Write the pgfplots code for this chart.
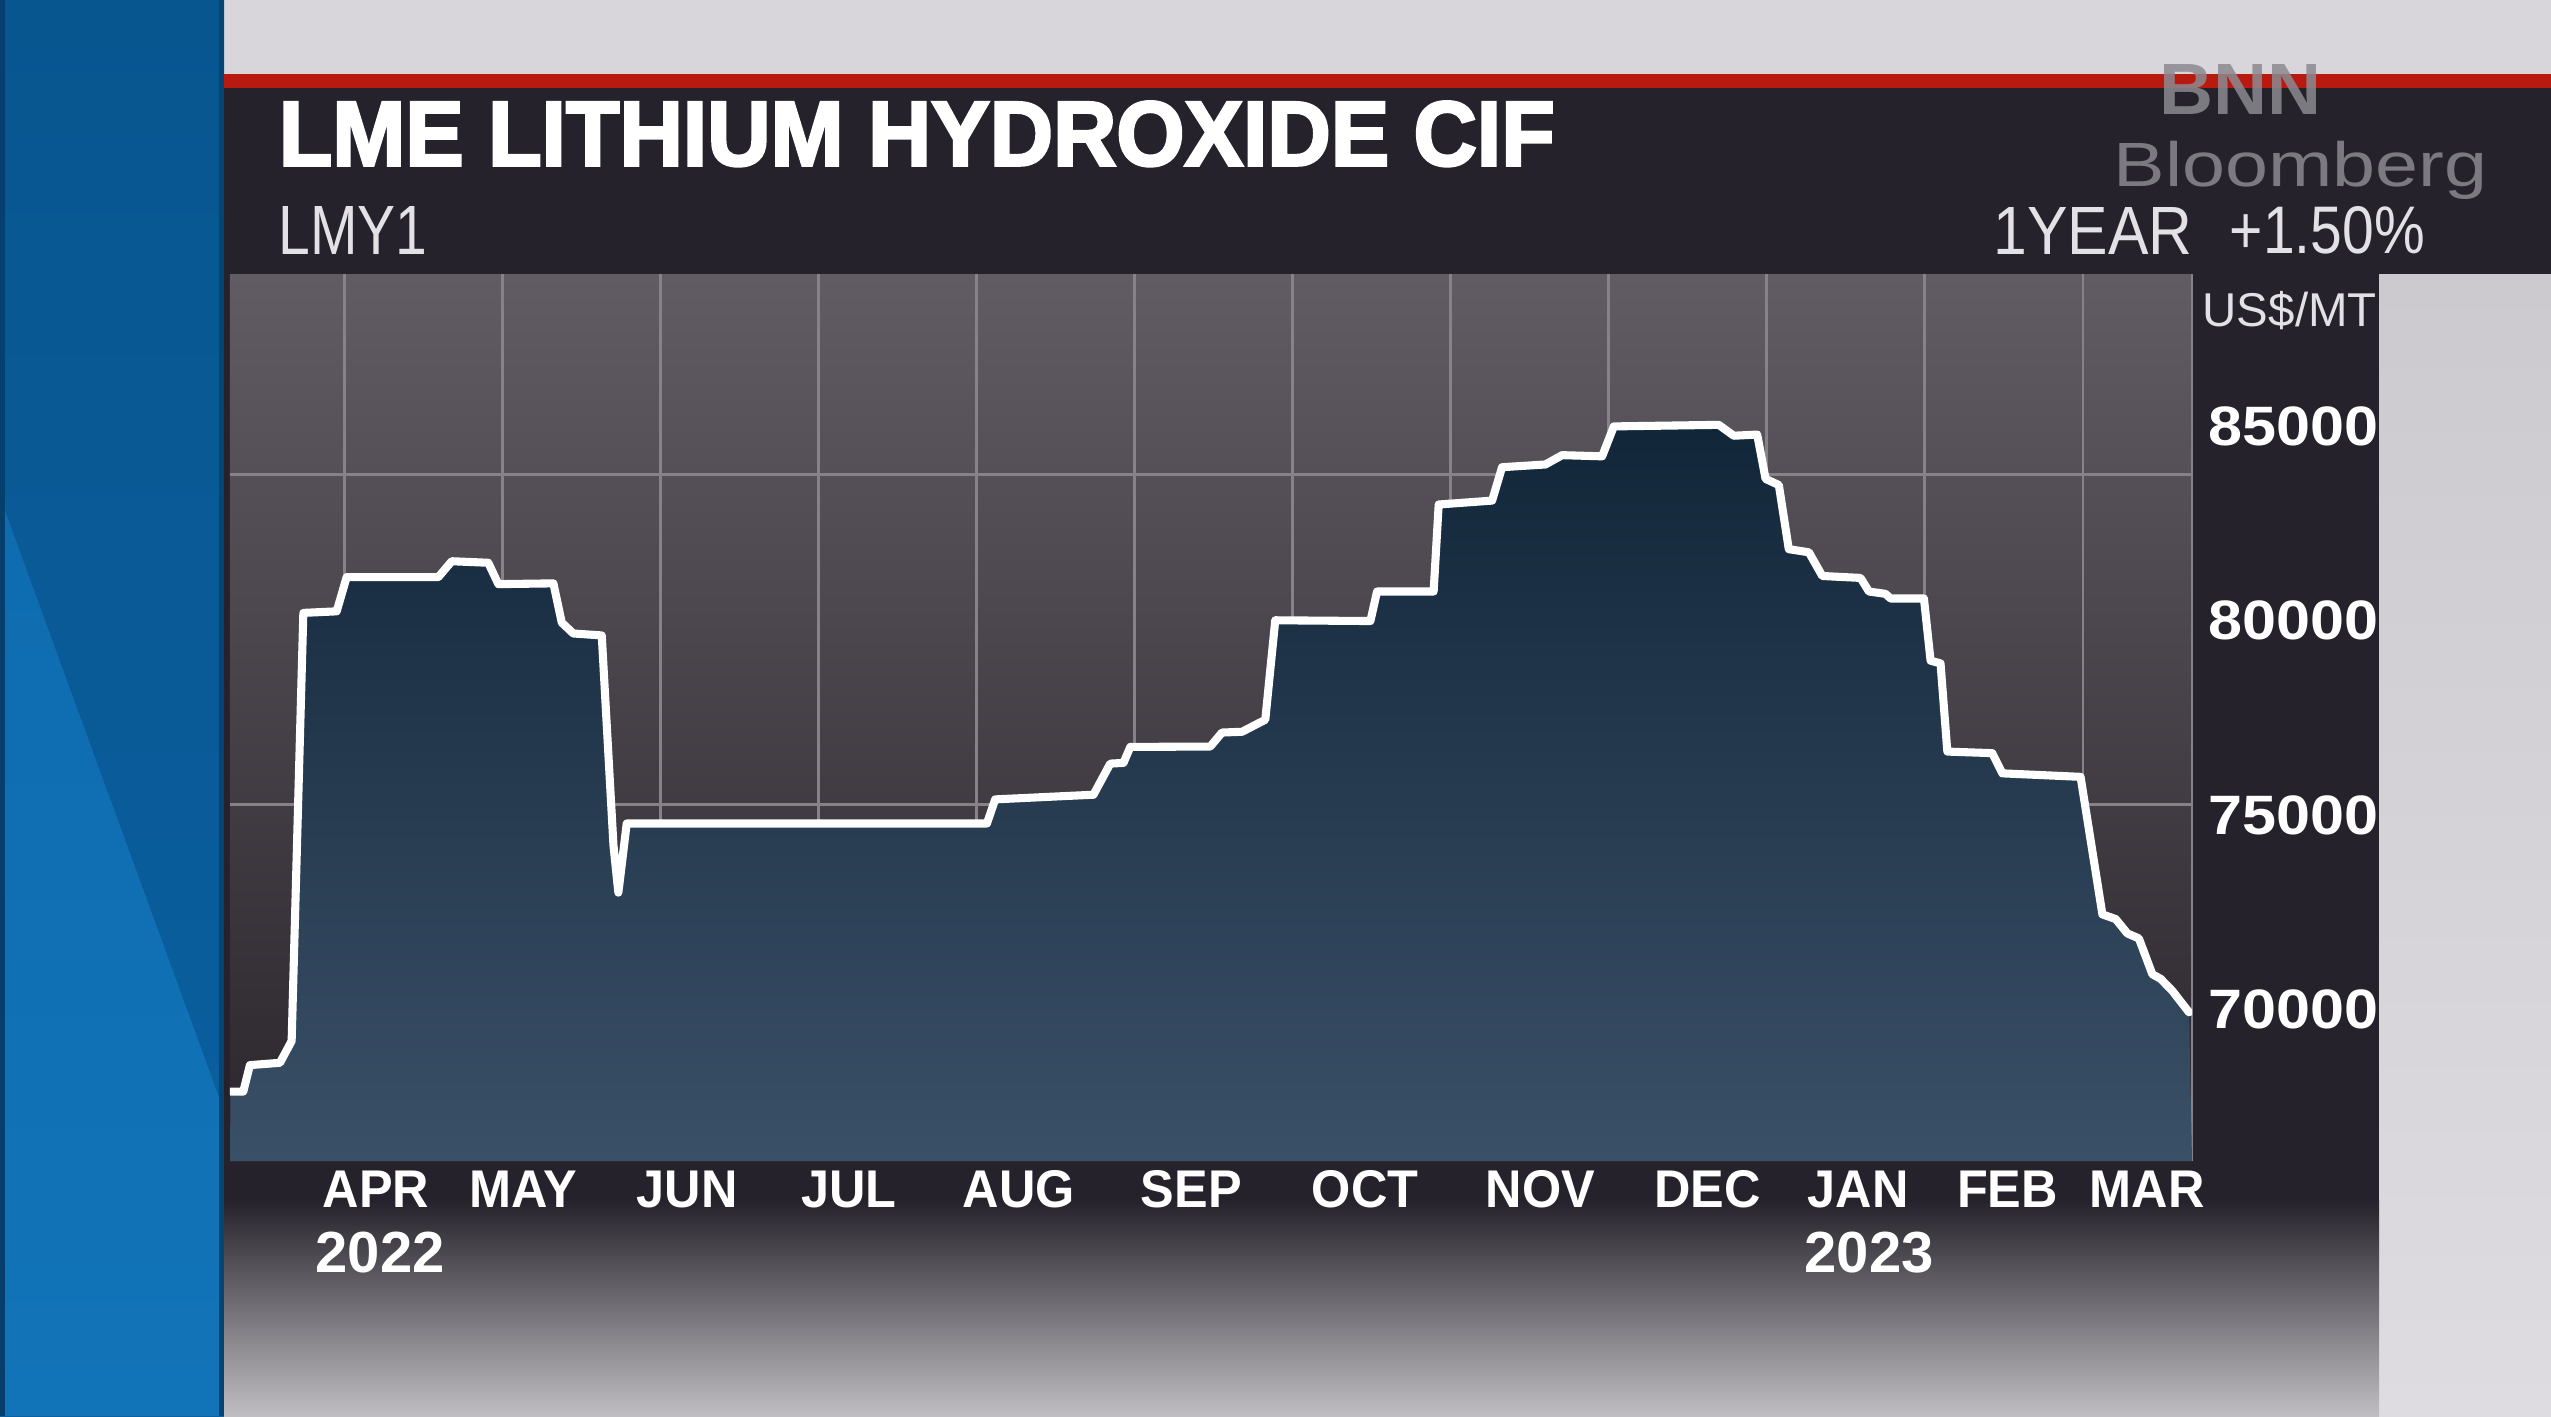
\documentclass[border=0pt]{standalone}
\usepackage{fontspec}
\usepackage{graphicx}
\usepackage{pgfplots}
\pgfplotsset{compat=1.18}
\usepackage{pgfplotstable}
\setmainfont{Liberation Sans}
\newfontfamily\monthfont{Liberation Sans}[FakeStretch=0.95]
\newfontfamily\yfont{Liberation Sans}[FakeStretch=1.1]
\newfontfamily\titlefont{Liberation Sans}[BoldFeatures={FakeBold=3}]
\newfontfamily\condfont{Liberation Sans}

\definecolor{headerbg}{RGB}{37,34,43}
\definecolor{redbar}{RGB}{184,26,16}
\definecolor{topgray}{RGB}{216,214,218}
\definecolor{rightgrayA}{RGB}{204,202,206}
\definecolor{rightgrayB}{RGB}{222,220,224}
\definecolor{blueUp}{RGB}{8,86,144}
\definecolor{blueUpB}{RGB}{10,96,160}
\definecolor{blueLowA}{RGB}{14,108,175}
\definecolor{blueLowB}{RGB}{18,116,184}
\definecolor{blueEdge}{RGB}{6,62,110}
\definecolor{plottop}{RGB}{97,92,99}
\definecolor{plotbot}{RGB}{42,38,44}
\definecolor{areatop}{RGB}{18,38,58}
\definecolor{areabot}{RGB}{58,80,102}
\definecolor{gridc}{RGB}{135,130,138}
\definecolor{bottomlight}{RGB}{192,190,194}
\definecolor{logogray}{RGB}{140,138,145}
\definecolor{subtext}{RGB}{225,225,230}

\pgfplotstableread{
m v
-0.720 67880
-0.639 67880
-0.597 68560
-0.407 68620
-0.333 69180
-0.259 80200
-0.048 80240
0.015 81120
0.595 81120
0.680 81530
0.911 81490
0.975 80940
1.323 80960
1.376 79950
1.449 79670
1.629 79620
1.703 74220
1.734 73000
1.787 74780
4.066 74780
4.118 75400
4.740 75520
4.846 76320
4.930 76340
4.973 76750
5.479 76760
5.553 77120
5.680 77140
5.827 77450
5.890 80010
6.492 79990
6.534 80750
6.892 80750
6.924 82990
7.262 83090
7.325 83950
7.599 84020
7.705 84260
7.958 84230
8.032 85000
8.696 85040
8.791 84760
8.939 84790
8.992 83650
9.076 83490
9.139 81840
9.266 81760
9.351 81150
9.593 81100
9.646 80750
9.751 80690
9.783 80570
9.994 80570
10.036 78970
10.099 78900
10.142 76630
10.426 76590
10.490 76070
10.985 75980
11.123 72440
11.207 72320
11.281 71950
11.354 71820
11.439 70900
11.492 70780
11.566 70470
11.671 69920
}\lithium

\begin{document}
\begin{tikzpicture}
\useasboundingbox (0,0) rectangle (25.51,14.16);
\clip (0,0) rectangle (25.51,14.16);
% backgrounds
\fill[topgray] (2.24,13.42) rectangle (25.51,14.16);
\shade[top color=blueUp, bottom color=blueUpB] (0,0) rectangle (2.24,14.16);
\shade[top color=blueLowA, bottom color=blueLowB] (0,9.19) -- (2.24,3.05) -- (2.24,0) -- (0,0) -- cycle;
\fill[blueEdge] (0,0) rectangle (0.05,14.16);
\fill[blueUp!80!black] (2.19,0) rectangle (2.24,14.16);
\fill[redbar] (2.24,13.28) rectangle (25.51,13.42);
\fill[headerbg] (2.24,11.415) rectangle (25.51,13.28);
\shade[top color=rightgrayA, bottom color=rightgrayB] (23.79,0) rectangle (25.51,11.415);
\fill[headerbg] (2.24,2.16) rectangle (23.79,11.415);
\shade[top color=headerbg, bottom color=bottomlight] (2.24,0) rectangle (23.79,2.16);

% header texts
\node[anchor=south west, inner sep=0pt, text=white] at (2.78,12.49)
  {\resizebox{12.76cm}{0.64cm}{\titlefont\bfseries LME LITHIUM HYDROXIDE CIF}};
\node[anchor=south west, inner sep=0pt, text=subtext] at (2.78,11.61)
  {\resizebox{1.49cm}{0.48cm}{\condfont LMY1}};
\node[anchor=south west, inner sep=0pt, text=subtext] at (19.93,11.61)
  {\resizebox{1.99cm}{0.47cm}{\condfont 1YEAR}};
\node[anchor=south west, inner sep=0pt, text=subtext] at (22.29,11.61)
  {\resizebox{1.95cm}{0.47cm}{\condfont +1.50\%}};
\node[anchor=south west, inner sep=0pt, text=logogray, opacity=0.85] at (21.59,13.01)
  {\resizebox{1.62cm}{0.50cm}{\condfont\bfseries BNN}};
\node[anchor=south west, inner sep=0pt, text=logogray, opacity=0.85] at (21.13,12.16)
  {\resizebox*{3.735cm}{0.583cm}{\condfont Bloomberg}};
\node[anchor=base west, inner sep=0pt, text=subtext, font=\fontsize{13.5pt}{16pt}\selectfont] at (22.02,10.90) {US\$/MT};

\begin{axis}[
  at={(2.30cm,2.55cm)}, anchor=south west,
  width=19.62cm, height=8.865cm, scale only axis,
  xmin=-0.723, xmax=11.69, ymin=66092, ymax=88910,
  axis x line*=bottom, axis y line*=right,
  x axis line style={draw=none},
  y axis line style={draw=gridc, line width=0.8pt},
  scaled x ticks=false, scaled y ticks=false,
  xtick={0.2006,1.131,2.169,3.194,4.268,5.359,6.458,7.568,8.625,9.578,10.523,11.406},
  xticklabels={APR,MAY,JUN,JUL,AUG,SEP,OCT,NOV,DEC,JAN,FEB,MAR},
  ytick={70000,75000,80000,85000},
  yticklabels={70000,75000,80000,85000},
  major tick length=0pt,
  /pgf/number format/assume math mode=true,
  xticklabel style={font=\fontsize{15.1pt}{18pt}\monthfont\bfseries, text=white, anchor=base, inner sep=0pt, yshift=-0.464cm},
  yticklabel style={font=\fontsize{15.8pt}{18pt}\yfont\bfseries, text=white, anchor=west, inner sep=0pt, xshift=0.16cm},
  extra x ticks={0,1,2,3,4,5,6,7,8,9,10,11},
  extra x tick labels={},
  extra x tick style={grid=major},
  extra y ticks={75273,83770},
  extra y tick labels={},
  extra y tick style={grid=major},
  major grid style={draw=gridc, line width=0.8pt},
  axis background/.style={top color=plottop, bottom color=plotbot},
]
\addplot[draw=none, top color=areatop, bottom color=areabot] table[x=m, y=v] {\lithium}
  -- (axis cs:11.69,66092) -- (axis cs:-0.723,66092) -- cycle;
\addplot[white, line width=2.3pt, line join=round, line cap=round] table[x=m, y=v] {\lithium};
\end{axis}

% year labels
\node[anchor=base west, inner sep=0pt, text=white, font=\fontsize{16.5pt}{20pt}\condfont\bfseries] at (3.15,1.44) {2022};
\node[anchor=base west, inner sep=0pt, text=white, font=\fontsize{16.5pt}{20pt}\condfont\bfseries] at (18.04,1.44) {2023};
\end{tikzpicture}
\end{document}
